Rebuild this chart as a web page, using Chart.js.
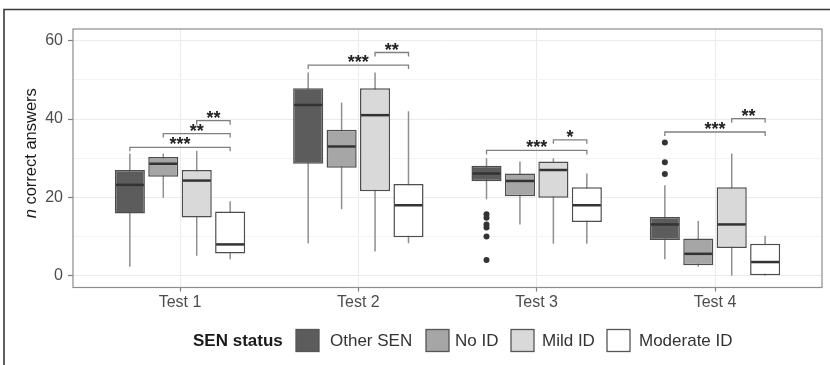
<!DOCTYPE html>
<html><head><meta charset="utf-8">
<script src="https://cdn.jsdelivr.net/npm/chart.js@4"></script>
<style>html,body{margin:0;padding:0;background:#fff;}#wrap{position:relative;width:830px;height:365px;}</style>
</head><body><div id="wrap"><canvas id="c" width="830" height="365"></canvas></div>
<script>
const categories = ['Test 1', 'Test 2', 'Test 3', 'Test 4'];
const groups = ['Other SEN', 'No ID', 'Mild ID', 'Moderate ID'];
const yTicks = [0, 10, 20, 30, 40, 50, 60];

// box statistics per SEN group, one value per test
const otherMin = [2.3, 8.3, 19.5, 4.2];
const otherQ1  = [15.9, 28.6, 24.1, 9.1];
const otherMed = [23.2, 43.6, 26.1, 13.1];
const otherQ3  = [27.0, 47.9, 28.1, 15.0];
const otherMax = [31.2, 51.9, 30.0, 23.1];
const otherOut = [[], [], [15.7, 14.8, 13.1, 12.3, 10, 4], [34, 29, 26]];

const noIdMin = [19.9, 17.0, 13.1, 2.3];
const noIdQ1  = [25.3, 27.6, 20.3, 2.7];
const noIdMed = [28.6, 33.0, 24.2, 5.6];
const noIdQ3  = [30.3, 37.3, 26.1, 9.5];
const noIdMax = [31.2, 44.2, 29.2, 14.0];
const noIdOut = [[], [], [], []];

const mildMin = [5.1, 6.2, 8.2, 0];
const mildQ1  = [14.9, 21.6, 19.9, 7.1];
const mildMed = [24.3, 41.0, 27.0, 13.1];
const mildQ3  = [27.0, 47.9, 29.2, 22.6];
const mildMax = [31.9, 51.9, 30.0, 31.2];
const mildOut = [[], [], [], []];

const modMin = [4.2, 8.3, 8.2, 0];
const modQ1  = [5.7, 9.8, 13.7, 0];
const modMed = [8.0, 18.0, 18.0, 3.5];
const modQ3  = [16.4, 23.4, 22.6, 8.2];
const modMax = [19.0, 42.0, 26.1, 10.2];
const modOut = [[], [], [], []];

// significance brackets: test index, from group, to group, height, label
const sigTest  = [0, 0, 0, 1, 1, 2, 2, 3, 3];
const sigFrom  = [0, 1, 2, 0, 2, 0, 2, 0, 2];
const sigTo    = [3, 3, 3, 3, 3, 3, 3, 3, 3];
const sigY     = [32.8, 36.3, 39.6, 53.8, 57.0, 32.0, 34.7, 36.7, 40.1];
const sigLabel = ['***', '**', '**', '***', '**', '***', '*', '***', '**'];

const stats = [
  {min: otherMin, q1: otherQ1, med: otherMed, q3: otherQ3, max: otherMax, out: otherOut},
  {min: noIdMin, q1: noIdQ1, med: noIdMed, q3: noIdQ3, max: noIdMax, out: noIdOut},
  {min: mildMin, q1: mildQ1, med: mildMed, q3: mildQ3, max: mildMax, out: mildOut},
  {min: modMin, q1: modQ1, med: modMed, q3: modQ3, max: modMax, out: modOut}
];
const fills = ['#5c5c5c', '#a6a6a6', '#d9d9d9', '#ffffff'];
const FONT = "'Liberation Sans', Arial, sans-serif";

const boxPlugin = {
  id: 'boxes',
  beforeDatasetsDraw(chart) {
    const ctx = chart.ctx, ys = chart.scales.y;
    ctx.save();
    ctx.strokeStyle = '#8f8f8f';
    ctx.lineWidth = 1.5;
    stats.forEach((st, di) => {
      chart.getDatasetMeta(di).data.forEach((bar, i) => {
        ctx.beginPath();
        ctx.moveTo(bar.x, ys.getPixelForValue(st.max[i]));
        ctx.lineTo(bar.x, ys.getPixelForValue(st.min[i]));
        ctx.stroke();
      });
    });
    ctx.restore();
  },
  afterDatasetsDraw(chart) {
    const ctx = chart.ctx, ys = chart.scales.y;
    ctx.save();
    stats.forEach((st, di) => {
      chart.getDatasetMeta(di).data.forEach((bar, i) => {
        const w = bar.width;
        const my = ys.getPixelForValue(st.med[i]);
        ctx.strokeStyle = '#333333';
        ctx.lineWidth = 2.5;
        ctx.beginPath();
        ctx.moveTo(bar.x - w / 2 + 1, my);
        ctx.lineTo(bar.x + w / 2 - 1, my);
        ctx.stroke();
        ctx.fillStyle = '#333333';
        st.out[i].forEach(v => {
          ctx.beginPath();
          ctx.arc(bar.x, ys.getPixelForValue(v), 3, 0, Math.PI * 2);
          ctx.fill();
        });
      });
    });
    // significance brackets
    sigTest.forEach((t, k) => {
      const a = chart.getDatasetMeta(sigFrom[k]).data[t];
      const b = chart.getDatasetMeta(sigTo[k]).data[t];
      const ly = ys.getPixelForValue(sigY[k]);
      ctx.strokeStyle = '#808080';
      ctx.lineWidth = 1.3;
      ctx.beginPath();
      ctx.moveTo(a.x, ly + 4);
      ctx.lineTo(a.x, ly);
      ctx.lineTo(b.x, ly);
      ctx.lineTo(b.x, ly + 4);
      ctx.stroke();
      ctx.fillStyle = '#222222';
      ctx.font = 'bold 18px ' + FONT;
      ctx.textAlign = 'center';
      ctx.textBaseline = 'alphabetic';
      ctx.fillText(sigLabel[k], (a.x + b.x) / 2, ly + 3);
    });
    ctx.restore();
  },
  afterDraw(chart) {
    const ctx = chart.ctx, a = chart.chartArea;
    ctx.save();
    // panel border
    ctx.strokeStyle = '#8c8c8c';
    ctx.lineWidth = 1.2;
    ctx.strokeRect(a.left, a.top, a.right - a.left, a.bottom - a.top);
    // outer frame
    ctx.strokeStyle = '#3a3a3a';
    ctx.lineWidth = 1.6;
    ctx.beginPath();
    ctx.moveTo(4, 365); ctx.lineTo(4, 9.5); ctx.lineTo(830, 9.5);
    ctx.stroke();
    // y title
    ctx.translate(31, (a.top + a.bottom) / 2 - 5);
    ctx.rotate(-Math.PI / 2);
    ctx.fillStyle = '#1a1a1a';
    ctx.textBaseline = 'middle';
    ctx.textAlign = 'left';
    const f1 = 'italic 16.5px ' + FONT, f2 = '16.5px ' + FONT;
    ctx.font = f1; const w1 = ctx.measureText('n').width;
    ctx.font = f2; const w2 = ctx.measureText(' correct answers').width;
    let x0 = -(w1 + w2) / 2;
    ctx.font = f1; ctx.fillText('n', x0, 0);
    ctx.font = f2; ctx.fillText(' correct answers', x0 + w1, 0);
    ctx.restore();
    // legend
    ctx.save();
    ctx.textBaseline = 'middle';
    ctx.textAlign = 'left';
    ctx.fillStyle = '#1a1a1a';
    ctx.font = 'bold 17px ' + FONT;
    ctx.fillText('SEN status', 193, 341);
    const keyX = [296, 426, 511, 607];
    const txtX = [330, 455, 542, 639];
    chart.data.datasets.forEach((ds, i) => {
      ctx.fillStyle = ds.backgroundColor;
      ctx.fillRect(keyX[i], 329.5, 23, 22);
      ctx.strokeStyle = '#555555';
      ctx.lineWidth = 1.3;
      ctx.strokeRect(keyX[i], 329.5, 23, 22);
      ctx.fillStyle = '#333333';
      ctx.font = '17px ' + FONT;
      ctx.fillText(ds.label, txtX[i], 341);
    });
    ctx.restore();
  }
};

const datasets = groups.map((g, di) => ({
  label: g,
  data: categories.map((c, i) => ({x: i + 1, y: [stats[di].q1[i], stats[di].q3[i]]})),
  backgroundColor: fills[di],
  borderColor: '#4d4d4d',
  borderWidth: 1.5,
  borderSkipped: false,
  categoryPercentage: 0.75,
  barPercentage: 0.9
}));

new Chart(document.getElementById('c'), {
  type: 'bar',
  data: {datasets},
  plugins: [boxPlugin],
  options: {
    responsive: false,
    animation: false,
    devicePixelRatio: 1,
    layout: {padding: {left: 0, right: 8, top: 29, bottom: 0}},
    plugins: {legend: {display: false}, tooltip: {enabled: false}},
    scales: {
      x: {
        type: 'linear', min: 0.4, max: 4.6, offset: false,
        afterBuildTicks: s => { s.ticks = categories.map((c, i) => ({value: i + 1})); },
        afterFit: s => { s.height = 77.5; },
        grid: {offset: false, color: '#ebebeb', lineWidth: 1, tickLength: 4, tickColor: '#7f7f7f', tickWidth: 1.2},
        border: {display: false},
        ticks: {callback: v => categories[v - 1], color: '#4d4d4d', font: {family: FONT, size: 16}, padding: 1, maxRotation: 0, autoSkip: false}
      },
      y: {
        min: -3, max: 63,
        afterBuildTicks: s => { s.ticks = yTicks.map(v => ({value: v})); },
        afterFit: s => { s.width = 73; },
        grid: {
          color: ctx => (ctx.tick && ctx.tick.value % 20 === 0) ? '#ebebeb' : '#f3f3f3',
          lineWidth: 1,
          tickLength: 5,
          tickWidth: 1.2,
          tickColor: ctx => (ctx.tick && ctx.tick.value % 20 === 0) ? '#7f7f7f' : 'rgba(0,0,0,0)'
        },
        border: {display: false},
        ticks: {callback: v => (v % 20 === 0 ? String(v) : ''), color: '#4d4d4d', font: {family: FONT, size: 16}, padding: 5, autoSkip: false}
      }
    }
  }
});
</script></body></html>
